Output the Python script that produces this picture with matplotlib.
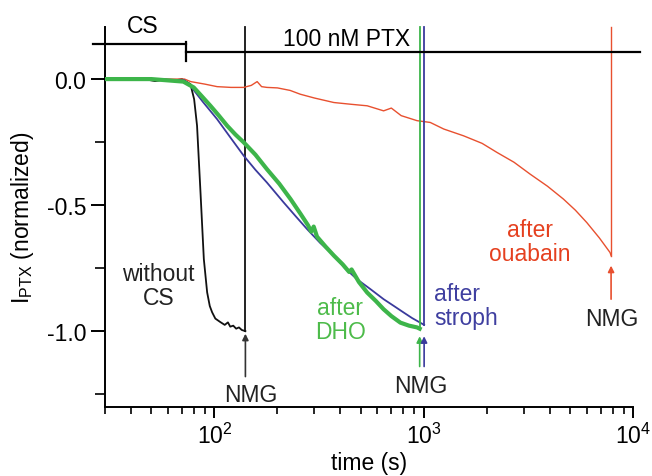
import matplotlib
matplotlib.use("Agg")
import matplotlib.pyplot as plt
from matplotlib.ticker import MultipleLocator, NullFormatter, LogLocator

plt.rcParams.update({"font.family": "Liberation Sans", "font.size": 16.5,
                     "mathtext.default": "regular", "axes.unicode_minus": False,
                     "axes.linewidth": 1.4})

COL = {"none": "#111111", "dho": "#3db54a", "stroph": "#3a3a9c", "ouab": "#e8502f"}
TXT = {"none": "#222222", "dho": "#4dbb4a", "stroph": "#3f3fa0", "ouab": "#e5401f"}

# ---- traces (time in s, normalized current) ------------------------------- #
black_t = [30, 38, 45, 52, 58, 64, 70, 76.8, 80, 82.6, 85.8, 89, 92.3, 95, 97.5,
           101, 106.8, 112, 116, 119, 123, 127, 131, 135, 140.6]
black_v = [0, -0.004, 0.002, -0.008, -0.002, -0.006, 0, -0.02, -0.08, -0.185,
           -0.45, -0.714, -0.846, -0.9, -0.925, -0.95, -0.964, -0.975, -0.965,
           -0.982, -0.978, -0.99, -0.985, -0.995, -1.0]

green_t = [30, 50, 71, 79.6, 87, 95.7, 105, 115, 126, 138, 157, 178, 204, 231,
           258, 280, 290, 298, 309, 340, 372, 410, 440, 452, 490, 537, 590, 643,
           700, 773, 850, 929, 956]
green_v = [0, 0, -0.01, -0.033, -0.068, -0.106, -0.145, -0.185, -0.22, -0.251,
           -0.30, -0.357, -0.415, -0.476, -0.535, -0.58, -0.605, -0.585, -0.625,
           -0.665, -0.70, -0.735, -0.765, -0.755, -0.805, -0.847, -0.88, -0.913,
           -0.94, -0.966, -0.978, -0.985, -0.99]

blue_t = [30, 50, 72, 76.8, 88, 103, 120, 138, 157, 178, 214, 245, 277, 320,
          372, 420, 480, 560, 643, 720, 802, 880, 961, 1004]
blue_v = [0, 0, -0.005, -0.027, -0.09, -0.159, -0.235, -0.304, -0.36, -0.41,
          -0.489, -0.545, -0.595, -0.65, -0.70, -0.75, -0.794, -0.835, -0.873,
          -0.90, -0.926, -0.948, -0.966, -0.975]

red_t = [30, 50, 72, 77, 90, 103, 120, 138, 150, 160, 168, 178, 200, 230, 257,
         300, 372, 450, 537, 643, 700, 780, 929, 1074, 1245, 1549, 1900, 2238,
         2700, 3222, 3900, 4648, 5300, 6008, 6900, 7762, 7850]
red_v = [0, 0, 0, -0.01, -0.02, -0.03, -0.033, -0.033, -0.025, -0.01, -0.03,
         -0.033, -0.035, -0.045, -0.06, -0.075, -0.093, -0.1, -0.106, -0.126,
         -0.115, -0.145, -0.165, -0.172, -0.198, -0.225, -0.255, -0.291, -0.33,
         -0.377, -0.425, -0.476, -0.52, -0.569, -0.63, -0.688, -0.70]

# application bars at the top
CS_START, CS_END, PTX_END = 26.4, 72.8, 10800
YTOP = 0.206


def main():
    fig = plt.figure(figsize=(6.52, 4.77), dpi=100)
    ax = fig.add_axes([0.161, 0.145, 0.81, 0.796])
    ax.set_xscale("log")
    ax.set_xlim(30, 1e4)
    ax.set_ylim(-1.30, YTOP)

    series = (("none", black_t, black_v, 1.3), ("ouab", red_t, red_v, 1.0),
              ("stroph", blue_t, blue_v, 1.3), ("dho", green_t, green_v, 3.0))
    for key, t, v, lw in series:
        ax.plot(t, v, color=COL[key], lw=lw, zorder=3 if key == "dho" else 2)
        # NMG wash-in: current jumps off scale
        ax.plot([t[-1], t[-1]], [v[-1], YTOP], color=COL[key],
                lw=1.3 if key != "ouab" else 1.0, clip_on=False)

    # application bars
    ax.plot([CS_START, CS_END], [0.139, 0.139], color="k", lw=1.6, clip_on=False)
    ax.plot([CS_END, CS_END], [0.147, 0.071], color="k", lw=1.6, clip_on=False)
    ax.plot([CS_END, PTX_END], [0.107, 0.107], color="k", lw=1.6, clip_on=False)
    ax.text(45.3, 0.187, "CS", ha="center", va="baseline", clip_on=False)
    ax.text(213, 0.136, "100 nM PTX", ha="left", va="baseline", clip_on=False)

    # labels
    ax.text(54, -0.82, "without\nCS", color=TXT["none"], ha="center", va="center",
            linespacing=1.05)
    ax.text(399, -0.952, "after\nDHO", color=TXT["dho"], ha="center", va="center",
            linespacing=1.05)
    ax.text(1122, -0.897, "after\nstroph", color=TXT["stroph"], ha="left",
            va="center", linespacing=1.05)
    ax.text(3220, -0.643, "after\nouabain", color=TXT["ouab"], ha="center",
            va="center", linespacing=1.05)

    # NMG arrows
    arr = dict(arrowstyle="-|>", lw=1.2, mutation_scale=9, shrinkA=0, shrinkB=0)
    ax.annotate("", xy=(black_t[-1], -1.01), xytext=(black_t[-1], -1.18),
                arrowprops=dict(arr, color="#333333"))
    ax.annotate("", xy=(green_t[-1], -1.02), xytext=(green_t[-1], -1.14),
                arrowprops=dict(arr, color=COL["dho"]))
    ax.annotate("", xy=(blue_t[-1], -1.02), xytext=(blue_t[-1], -1.14),
                arrowprops=dict(arr, color=COL["stroph"]))
    ax.annotate("", xy=(red_t[-1], -0.74), xytext=(red_t[-1], -0.873),
                arrowprops=dict(arr, color=COL["ouab"]))
    ax.text(150, -1.25, "NMG", ha="center", va="center", color="#222222")
    ax.text(973, -1.215, "NMG", ha="center", va="center", color="#222222")
    ax.text(7950, -0.95, "NMG", ha="center", va="center", color="#222222")

    # axes styling
    for s in ("top", "right"):
        ax.spines[s].set_visible(False)
    ax.yaxis.set_major_locator(MultipleLocator(0.5))
    ax.yaxis.set_minor_locator(MultipleLocator(0.25))
    ax.set_yticks([0.0, -0.5, -1.0])
    ax.set_yticklabels(["0.0", "-0.5", "-1.0"])
    ax.xaxis.set_major_locator(LogLocator(base=10))
    ax.xaxis.set_minor_formatter(NullFormatter())
    ax.tick_params(which="major", direction="out", length=8, width=1.4)
    ax.tick_params(which="minor", direction="out", length=5, width=1.2)
    ax.tick_params(axis="y", which="major", length=10)
    ax.tick_params(axis="y", which="minor", length=7)
    ax.set_xlabel("time (s)", labelpad=2)
    ax.set_ylabel("I$_{PTX}$ (normalized)", labelpad=8)

    fig.savefig("out.png", dpi=100)
    plt.close(fig)


if __name__ == "__main__":
    main()
